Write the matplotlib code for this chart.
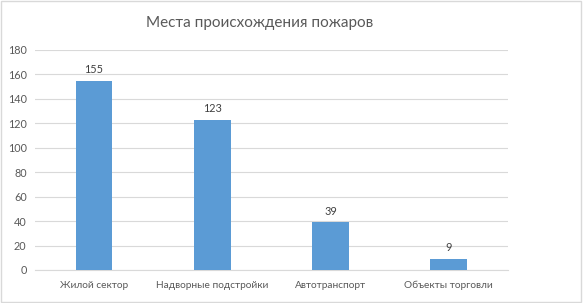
import matplotlib
matplotlib.use("Agg")
import matplotlib.pyplot as plt

categories = ["Жилой сектор", "Надворные подстройки", "Автотранспорт", "Объекты торговли"]
values = [155, 123, 39, 9]
yticks = [0, 20, 40, 60, 80, 100, 120, 140, 160, 180]
title = "Места происхождения пожаров"

plt.rcParams['font.family'] = ['Lato', 'DejaVu Sans']

fig = plt.figure(figsize=(5.83, 3.03), dpi=100)
fig.patch.set_facecolor('white')
border = plt.Rectangle((0.002, 0.003), 0.995, 0.993, transform=fig.transFigure,
                       fill=False, edgecolor='#d9d9d9', linewidth=1.0)
fig.add_artist(border)

ax = fig.add_axes([0.060, 0.109, 0.811, 0.726])
x = list(range(len(categories)))
bars = ax.bar(x, values, width=0.31, color='#5b9bd5', zorder=3)
ax.set_xlim(-0.5, len(categories) - 0.5)
ax.set_ylim(0, 180)
ax.set_yticks(yticks)
ax.set_yticklabels([str(t) for t in yticks], fontsize=7.8, color='#595959')
ax.set_xticks(x)
ax.set_xticklabels(categories, fontsize=7.3, color='#595959')
ax.tick_params(axis='both', length=0, pad=8)
ax.tick_params(axis='y', pad=6)
ax.grid(axis='y', color='#d9d9d9', linewidth=0.8, zorder=0)
for s in ['top', 'right', 'left']:
    ax.spines[s].set_visible(False)
ax.spines['bottom'].set_color('#d9d9d9')
ax.spines['bottom'].set_linewidth(0.8)

for xi, v in zip(x, values):
    ax.annotate(str(v), (xi, v), xytext=(0, 4), textcoords='offset points',
                ha='center', va='bottom', fontsize=7.8, color='#404040')

fig.text(0.446, 0.925, title, ha='center', va='center', fontsize=11, color='#595959')

fig.savefig("out.png", dpi=100)
